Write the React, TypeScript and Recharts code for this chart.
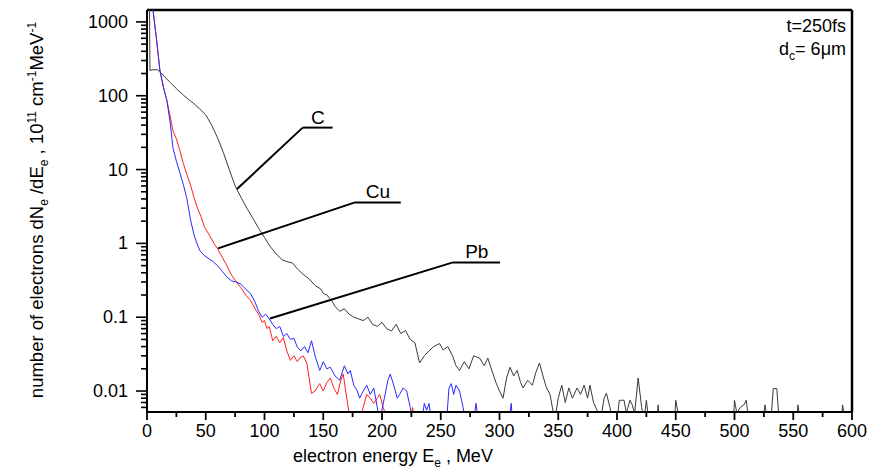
import { LineChart, Line, XAxis, YAxis, ReferenceLine, ReferenceDot } from "recharts";

const FONT = "'Liberation Sans', Arial, sans-serif";

// C target (black)
const cEnergy = [2, 2.5, 5, 9, 12, 15, 20, 25, 30, 35, 40, 45, 50, 55, 60, 65, 70, 75, 80, 85, 90, 95, 100, 105, 110, 115, 120, 124, 128, 133, 138, 143, 148, 150, 153, 157, 160, 164, 168, 172, 176, 180, 184, 188, 192, 196, 200, 204, 208, 212, 216, 220, 224, 228, 232, 236, 240, 244, 249, 252, 256, 260, 263, 266, 270, 274, 278, 283, 287, 290, 294, 297, 300, 303, 306, 309, 312, 315, 318, 320, 324, 328, 331, 334, 337, 340, 343, 347, 350, 353, 356, 359, 362, 366, 369, 372, 375, 377, 380, 383, 386, 389, 391, 394, 396, 400, 402, 406, 408, 411, 413, 415, 418, 421, 423, 425, 427, 434, 435, 436, 449, 450, 452, 454, 499, 500, 502, 505, 508, 510, 512, 524, 526, 528, 531, 533, 536, 538, 553, 554, 556, 591, 592, 594, 600];
const cValues = [3000, 220, 225, 225, 205, 180, 150, 125, 105, 90, 78, 66, 55, 40, 27, 17, 10, 6, 4.2, 3, 2.2, 1.6, 1.2, 0.9, 0.72, 0.6, 0.56, 0.54, 0.45, 0.38, 0.33, 0.27, 0.24, 0.21, 0.2, 0.17, 0.14, 0.12, 0.13, 0.11, 0.1, 0.095, 0.09, 0.1, 0.08, 0.075, 0.085, 0.07, 0.065, 0.08, 0.06, 0.066, 0.05, 0.045, 0.024, 0.03, 0.035, 0.04, 0.044, 0.036, 0.04, 0.03, 0.022, 0.019, 0.025, 0.02, 0.03, 0.028, 0.022, 0.028, 0.018, 0.013, 0.01, 0.008, 0.015, 0.021, 0.016, 0.019, 0.013, 0.011, 0.014, 0.012, 0.018, 0.024, 0.016, 0.011, 0.009, 0.004, 0.008, 0.012, 0.007, 0.011, 0.008, 0.011, 0.009, 0.012, 0.008, 0.012, 0.007, 0.0055, 0.004, 0.008, 0.0093, 0.006, 0.004, 0.004, 0.0075, 0.0075, 0.005, 0.0075, 0.0065, 0.005, 0.015, 0.006, 0.004, 0.0075, 0.004, 0.004, 0.0065, 0.004, 0.004, 0.0075, 0.005, 0.004, 0.004, 0.0075, 0.005, 0.006, 0.0065, 0.0075, 0.004, 0.004, 0.0065, 0.004, 0.004, 0.0108, 0.0108, 0.004, 0.004, 0.0065, 0.004, 0.004, 0.0065, 0.004, 0.004];

// Cu target (red)
const cuEnergy = [4, 5, 8, 11, 14, 17, 20, 22, 25, 28, 31, 34, 37, 40, 43, 46, 49, 53, 57, 60, 64, 68, 72, 76, 80, 84, 88, 92, 95, 98, 100, 102, 104, 107, 110, 113, 116, 119, 122, 125, 128, 130, 133, 136, 138, 140, 143, 147, 150, 153, 156, 159, 162, 165, 167, 170, 173, 181, 184, 187, 190, 193, 196, 198, 201, 205, 224, 226, 228, 240];
const cuValues = [3000, 1500, 600, 220, 130, 85, 50, 34, 26, 18, 12, 8.5, 6.2, 4.2, 3, 2.3, 1.65, 1.3, 1.0, 0.85, 0.65, 0.5, 0.37, 0.3, 0.25, 0.2, 0.17, 0.13, 0.11, 0.085, 0.09, 0.07, 0.075, 0.048, 0.055, 0.045, 0.053, 0.035, 0.026, 0.03, 0.025, 0.028, 0.03, 0.024, 0.015, 0.0093, 0.01, 0.0126, 0.01, 0.013, 0.015, 0.011, 0.009, 0.014, 0.017, 0.008, 0.004, 0.004, 0.006, 0.009, 0.008, 0.0068, 0.008, 0.009, 0.006, 0.004, 0.004, 0.006, 0.004, 0.004];

// Pb target (blue)
const pbEnergy = [4, 5, 8, 11, 14, 17, 20, 22, 25, 28, 31, 34, 37, 40, 43, 45, 48, 52, 56, 60, 64, 68, 72, 76, 80, 84, 88, 92, 95, 98, 101, 104, 107, 110, 113, 116, 119, 122, 125, 128, 131, 134, 137, 140, 143, 147, 150, 153, 156, 160, 164, 168, 171, 173, 176, 179, 181, 184, 187, 190, 193, 196, 198, 202, 205, 207, 210, 213, 215, 218, 221, 224, 226, 234, 236, 238, 240, 242, 255, 257, 259, 261, 263, 266, 269, 271, 278, 280, 282, 308, 310, 311, 320];
const pbValues = [3000, 1500, 600, 220, 130, 85, 40, 20, 13, 9, 6.2, 4, 2.1, 1.3, 0.95, 0.8, 0.7, 0.63, 0.57, 0.5, 0.42, 0.35, 0.31, 0.3, 0.28, 0.24, 0.21, 0.16, 0.12, 0.1, 0.11, 0.095, 0.08, 0.07, 0.075, 0.055, 0.06, 0.05, 0.052, 0.039, 0.035, 0.04, 0.033, 0.048, 0.03, 0.019, 0.025, 0.02, 0.021, 0.016, 0.014, 0.022, 0.017, 0.019, 0.012, 0.01, 0.008, 0.01, 0.012, 0.009, 0.011, 0.006, 0.004, 0.008, 0.014, 0.017, 0.012, 0.008, 0.009, 0.011, 0.01, 0.006, 0.004, 0.004, 0.0068, 0.0055, 0.0068, 0.004, 0.004, 0.011, 0.0126, 0.009, 0.012, 0.01, 0.006, 0.004, 0.004, 0.0068, 0.004, 0.004, 0.0068, 0.004, 0.004];

const xTicks = [0, 25, 50, 75, 100, 125, 150, 175, 200, 225, 250, 275, 300, 325, 350, 375, 400, 425, 450, 475, 500, 525, 550, 575, 600];
const yMajor = [0.01, 0.1, 1, 10, 100, 1000];
const yMajorLabels = ["0.01", "0.1", "1", "10", "100", "1000"];
const Y_MIN = 0.0052;
const Y_MAX = 1450;

const yTicks: number[] = [];
[0.001, ...yMajor].forEach((d) => {
  yTicks.push(d * 10);
  [2, 3, 4, 5, 6, 7, 8, 9].forEach((m) => yTicks.push(d * m));
});
const yTickList = Array.from(new Set(yTicks.filter((v) => v >= Y_MIN && v <= Y_MAX))).sort((a, b) => a - b);

const pair = (xs: number[], ys: number[]) => xs.map((e, i) => ({ e, n: ys[i] }));
const cData = pair(cEnergy, cValues);
const cuData = pair(cuEnergy, cuValues);
const pbData = pair(pbEnergy, pbValues);

const isMajor = (v: number) => {
  const l = Math.log10(v);
  return Math.abs(l - Math.round(l)) < 1e-6;
};

const YTick = (props: any) => {
  const { x, y, payload } = props;
  const v = payload.value;
  const major = isMajor(v);
  const idx = yMajor.findIndex((m) => Math.abs(m - v) / m < 1e-6);
  return (
    <g>
      <line x1={x} x2={x - (major ? 11 : 6)} y1={y} y2={y} stroke="#000" strokeWidth={1.6} />
      {major && idx >= 0 && (
        <text x={x - 19} y={y + 6} textAnchor="end" fontSize={18} fontFamily={FONT} fill="#000">
          {yMajorLabels[idx]}
        </text>
      )}
    </g>
  );
};

const XTick = (props: any) => {
  const { x, y, payload } = props;
  const v = payload.value;
  const major = v % 50 === 0;
  return (
    <g>
      <line x1={x} x2={x} y1={y} y2={y + (major ? 8 : 5)} stroke="#000" strokeWidth={1.8} />
      {major && (
        <text x={x} y={y + 25} textAnchor="middle" fontSize={18} fontFamily={FONT} fill="#000">
          {v}
        </text>
      )}
    </g>
  );
};

const YLabel = () => (
  <text transform="translate(43,210) rotate(-90)" textAnchor="middle" fontSize={18.5} fontFamily={FONT} fill="#000">
    number of electrons dN
    <tspan fontSize={12} dy={5}>e</tspan>
    <tspan dy={-5}> /dE</tspan>
    <tspan fontSize={12} dy={5}>e</tspan>
    <tspan dy={-5}> , 10</tspan>
    <tspan fontSize={12} dy={-7}>11</tspan>
    <tspan dy={7}> cm</tspan>
    <tspan fontSize={12} dy={-7}>-1</tspan>
    <tspan dy={7}>MeV</tspan>
    <tspan fontSize={12} dy={-7}>-1</tspan>
  </text>
);

const XLabel = () => (
  <text x={393} y={462} textAnchor="middle" fontSize={18} fontFamily={FONT} fill="#000">
    electron energy E
    <tspan fontSize={12} dy={5}>e</tspan>
    <tspan dy={-5}> , MeV</tspan>
  </text>
);

const Corner = (props: any) => {
  const { viewBox } = props;
  const right = viewBox.x + viewBox.width - 6;
  return (
    <g fontFamily={FONT} fontSize={18} fill="#000">
      <text x={right} y={32} textAnchor="end">t=250fs</text>
      <text x={right} y={55} textAnchor="end">
        d<tspan fontSize={12} dy={5}>c</tspan>
        <tspan dy={-5}>= 6μm</tspan>
      </text>
    </g>
  );
};

const callouts = [
  { name: "C", from: { x: 76.6, y: 5.44 }, elbow: { x: 132.5, y: 37 }, end: { x: 158, y: 37 }, lx: 145.5 },
  { name: "Cu", from: { x: 60.4, y: 0.855 }, elbow: { x: 177, y: 3.59 }, end: { x: 216, y: 3.59 }, lx: 196.5 },
  { name: "Pb", from: { x: 104.7, y: 0.096 }, elbow: { x: 260.4, y: 0.553 }, end: { x: 300.4, y: 0.553 }, lx: 280.7 },
];

export default function App() {
  return (
    <div style={{ position: "absolute", left: 0, top: 0, background: "#fff" }}>
      <LineChart width={883} height={476} margin={{ top: 10, right: 31, bottom: 0, left: 0 }}>
        <XAxis
          type="number"
          dataKey="e"
          domain={[0, 600]}
          ticks={xTicks}
          interval={0}
          tickSize={0}
          tickMargin={0}
          tick={<XTick />}
          height={64}
          axisLine={{ stroke: "#000", strokeWidth: 2 }}
          allowDataOverflow
          label={<XLabel />}
        />
        <YAxis
          type="number"
          dataKey="n"
          scale="log"
          domain={[Y_MIN, Y_MAX]}
          ticks={yTickList}
          interval={0}
          tickSize={0}
          tickMargin={0}
          tick={<YTick />}
          width={147}
          axisLine={{ stroke: "#000", strokeWidth: 2 }}
          allowDataOverflow
          label={<YLabel />}
        />
        <ReferenceLine y={Y_MAX} stroke="#000" strokeWidth={2.5} label={<Corner />} />
        <ReferenceLine x={600} stroke="#000" strokeWidth={2.5} />
        <Line data={cData} dataKey="n" type="linear" stroke="#3a3a3a" strokeWidth={1} dot={false} isAnimationActive={false} />
        <Line data={cuData} dataKey="n" type="linear" stroke="#ff2020" strokeWidth={1} dot={false} isAnimationActive={false} />
        <Line data={pbData} dataKey="n" type="linear" stroke="#2a2aff" strokeWidth={1} dot={false} isAnimationActive={false} />
        {callouts.map((c) => (
          <ReferenceLine key={c.name + "a"} segment={[c.from, c.elbow]} stroke="#000" strokeWidth={2} />
        ))}
        {callouts.map((c) => (
          <ReferenceLine key={c.name + "b"} segment={[c.elbow, c.end]} stroke="#000" strokeWidth={2} />
        ))}
        {callouts.map((c) => (
          <ReferenceDot
            key={c.name + "t"}
            x={c.lx}
            y={c.end.y}
            r={0}
            stroke="none"
            label={{ value: c.name, position: "top", offset: 4, fontSize: 19, fontFamily: FONT, fill: "#000" }}
          />
        ))}
      </LineChart>
    </div>
  );
}
